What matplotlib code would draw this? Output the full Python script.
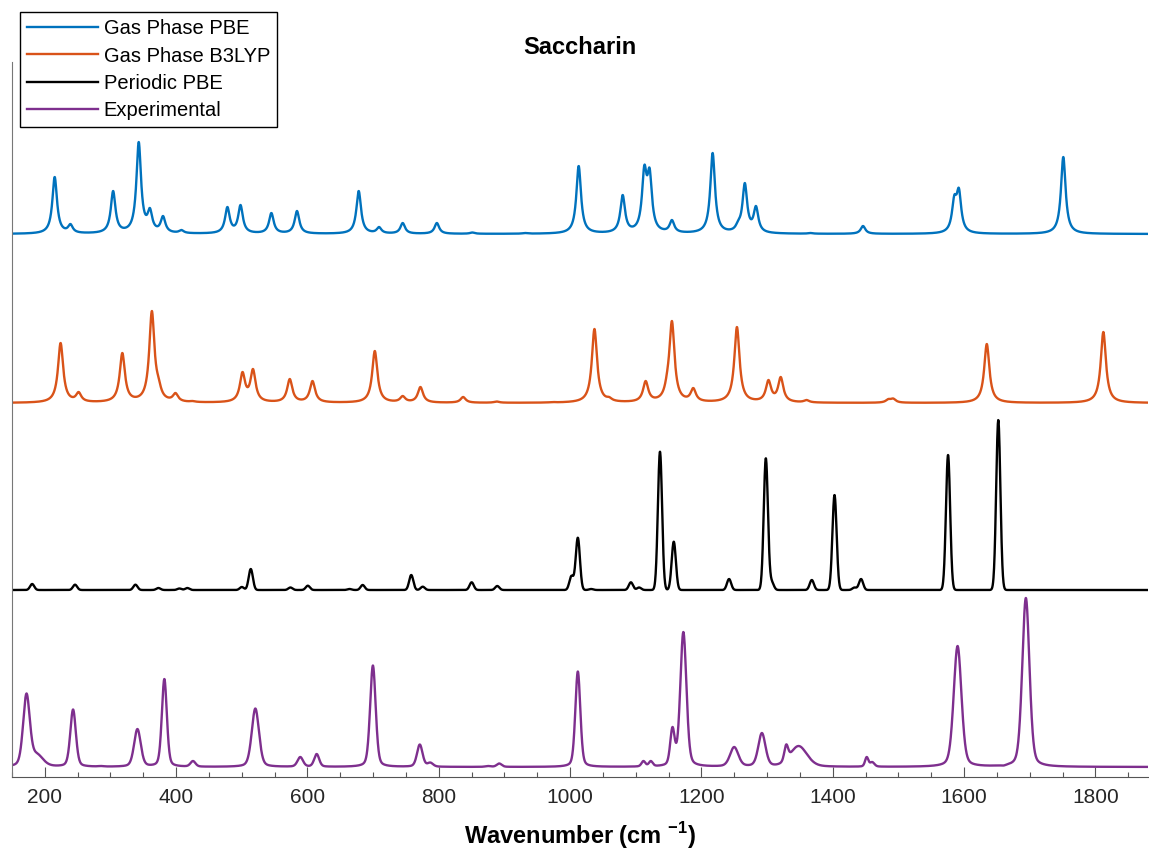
import numpy as np
import matplotlib.pyplot as plt
from matplotlib.ticker import MultipleLocator

plt.rcParams['font.family'] = ['Liberation Sans', 'DejaVu Sans']
plt.rcParams['mathtext.fontset'] = 'custom'
plt.rcParams['mathtext.rm'] = 'Liberation Sans'
plt.rcParams['mathtext.bf'] = 'Liberation Sans:bold'

# --- peak tables: centre (cm-1), height above the trace baseline, FWHM (cm-1)

pbe_gas_pos = [215, 239, 304, 343, 360, 380, 408, 478, 498, 545, 584, 678, 709,
               745, 797, 851, 931, 1013, 1080, 1113, 1121, 1155, 1217, 1256,
               1266, 1283, 1366, 1446, 1585, 1592, 1751]
pbe_gas_height = [57, 10, 43, 92, 26, 18, 4, 27, 29, 21, 23, 43, 7,
                  11, 11, 1.5, 1, 68, 39, 69, 66, 14, 81, 14,
                  51, 28, 1, 8, 39, 46, 77]

b3lyp_gas_pos = [224, 251.5, 318, 363, 373, 399, 425, 501, 517, 573, 607.6,
                 702.5, 745, 772, 837, 888, 973, 1037, 1059.5, 1115, 1148,
                 1155, 1187.5, 1254, 1302, 1320.7, 1360, 1484.6, 1492,
                 1634.5, 1812]
b3lyp_gas_height = [60, 11, 50, 92, 26, 10, 2, 31, 34, 24, 22,
                    52, 7, 16, 6, 1.5, 1, 74, 6, 22, 33,
                    82, 15, 76, 23, 26, 3, 4, 4.5,
                    59, 71]

pbe_per_pos = [180.7, 246, 338, 373, 405, 417, 500, 513.6, 574, 600.5, 664,
               684, 758, 775.5, 850, 889, 1002, 1011.7, 1032, 1092.5, 1105,
               1136.8, 1157.8, 1242, 1298, 1307, 1368, 1402.6, 1433, 1443,
               1575.5, 1652]
pbe_per_height = [6, 5.3, 5.3, 2, 1.5, 2, 3, 21, 2.5, 4.3, 1,
                  5, 15, 3.3, 7.7, 4, 14.3, 52.3, 1, 7.7, 2.5,
                  138.3, 48.3, 11, 131.7, 10, 10, 95, 2.5, 11,
                  135, 170]

exp_pos = [172, 188, 243, 285.6, 341, 382, 425.6, 520.6, 589, 614, 699.6,
           771, 787, 875, 892, 1011.7, 1111.6, 1122.8, 1155.8, 1172.4,
           1249.8, 1292, 1329, 1348, 1451.6, 1460, 1590, 1660, 1694]
exp_height = [73.5, 14, 57.5, 1, 38, 88, 6, 58.5, 10, 13, 101.5,
              22.5, 4.5, 1, 3.5, 95.5, 6, 6, 40, 135,
              20, 34, 22.5, 21, 10, 5, 121, 1.5, 169]
exp_fwhm = [12, 22, 10, 10, 12, 9, 9, 13, 10, 9, 10,
            10, 10, 10, 9, 9, 7, 7, 8, 11,
            15, 13, 7, 30, 6, 8, 14, 8, 13]

series_labels = ['Gas Phase PBE', 'Gas Phase B3LYP', 'Periodic PBE', 'Experimental']
series_colors = ['#0072BD', '#D95319', '#000000', '#7E2F8E']
baselines = [543, 374, 187, 10]


def lorentz(x, c, w):
    return 1.0 / (1.0 + ((x - c) / (w / 2)) ** 2)


def gauss(x, c, w):
    return np.exp(-4 * np.log(2) * ((x - c) / w) ** 2)


def pvoigt(x, c, w):
    return 0.3 * lorentz(x, c, w) + 0.7 * gauss(x, c, w)


def spectrum(x, pos, height, fwhm, shape):
    pos = np.asarray(pos, float)
    fwhm = np.broadcast_to(np.asarray(fwhm, float), pos.shape)
    # scale each band so the summed curve passes through the listed heights
    basis = shape(pos[:, None], pos[None, :], fwhm[None, :])
    amp = np.linalg.solve(basis, np.asarray(height, float))
    return shape(x[:, None], pos[None, :], fwhm[None, :]) @ amp


wn = np.linspace(150, 1880, 6000)
traces = [
    spectrum(wn, pbe_gas_pos, pbe_gas_height, 8.5, lorentz),
    spectrum(wn, b3lyp_gas_pos, b3lyp_gas_height, 9.5, lorentz),
    spectrum(wn, pbe_per_pos, pbe_per_height, 7.5, gauss),
    spectrum(wn, exp_pos, exp_height, exp_fwhm, pvoigt),
]

fig = plt.figure(figsize=(11.49, 8.51), dpi=100)
ax = fig.add_axes([12 / 1149, 1 - 777 / 851, 1136 / 1149, 715 / 851])

for y, base, lab, col in zip(traces, baselines, series_labels, series_colors):
    ax.plot(wn, y + base, color=col, lw=1.7, label=lab)

ax.set_xlim(150, 1880)
ax.set_ylim(0, 715)
ax.xaxis.set_major_locator(MultipleLocator(200))
ax.xaxis.set_minor_locator(MultipleLocator(50))
ax.tick_params(axis='x', which='major', direction='in', length=7, width=0.8,
               color='#555555', labelsize=15, labelcolor='#262626', pad=8)
ax.tick_params(axis='x', which='minor', direction='in', length=3.5, width=0.8,
               color='#555555')
ax.set_yticks([])
for side in ['top', 'right']:
    ax.spines[side].set_visible(False)
ax.spines['left'].set_color('#777777')
ax.spines['bottom'].set_color('#555555')

ax.set_title('Saccharin', fontsize=17, fontweight='bold', pad=6)
ax.set_xlabel(r'Wavenumber (cm $^{\mathbf{-1}}$)', fontsize=17,
              fontweight='bold', labelpad=9)

ax.legend(loc='upper left', bbox_to_anchor=(20 / 1149, 1 - 12 / 851),
          bbox_transform=fig.transFigure, borderaxespad=0, fontsize=14.5,
          frameon=True, fancybox=False, edgecolor='black', framealpha=1,
          handlelength=3.5, labelspacing=0.42, borderpad=0.35,
          handletextpad=0.3)

fig.savefig('out.png', dpi=100)
